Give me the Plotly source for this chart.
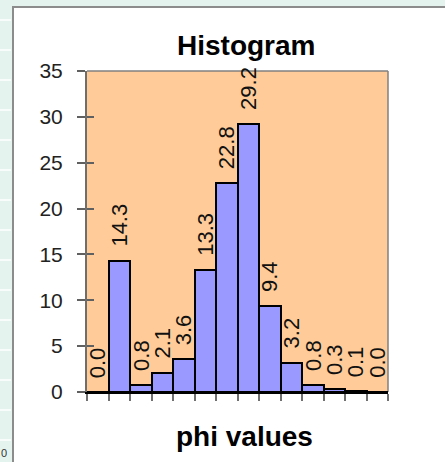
import plotly.graph_objects as go

# Histogram of phi values: percentage per bin
bins = list(range(14))
percent = [0.0, 14.3, 0.8, 2.1, 3.6, 13.3, 22.8, 29.2, 9.4, 3.2, 0.8, 0.3, 0.1, 0.0]
y_ticks = [0, 5, 10, 15, 20, 25, 30, 35]

FONT = "Liberation Sans, Arial, sans-serif"
W, H = 445, 462
L, R, T, B = 87, 57, 71, 70
PW, PH = W - L - R, H - T - B


def px(xp):
    return (xp - L) / PW


def py(yp):
    return (H - B - yp) / PH


fig = go.Figure()
fig.add_trace(go.Bar(
    x=bins, y=percent,
    marker=dict(color="#9999FF", line=dict(color="#000000", width=2)),
    width=1.0, hoverinfo="skip", showlegend=False,
))
# helper trace so the overlay axis (inward tick halves) is drawn
fig.add_trace(go.Scatter(x=[None], y=[None], yaxis="y2", showlegend=False, hoverinfo="skip"))

# value labels above each bar
for xi, v in zip(bins, percent):
    fig.add_annotation(
        x=xi, y=v, xref="x", yref="y", text=f"{v:.1f}", showarrow=False,
        textangle=-90, yanchor="bottom", xanchor="center", yshift=12,
        font=dict(family=FONT, size=22, color="#111111"),
    )

shapes = [
    # chart frame
    dict(type="rect", xref="paper", yref="paper", x0=px(13), x1=px(460), y0=py(7), y1=py(475),
         fillcolor="#FFFFFF", line=dict(color="#8C8C8C", width=2), layer="below"),
    # plot area fill
    dict(type="rect", xref="paper", yref="paper", x0=0, x1=1, y0=0, y1=1,
         fillcolor="#FFCC99", line=dict(width=0), layer="below"),
    # top and right plot border
    dict(type="line", xref="paper", yref="paper", x0=0, x1=1, y0=1, y1=1,
         line=dict(color="#808080", width=1.5), layer="below"),
    dict(type="line", xref="paper", yref="paper", x0=1, x1=1, y0=0, y1=1,
         line=dict(color="#808080", width=1.5), layer="below"),
]
# sheet row lines in the strip at the left
for yr in range(20, 462, 30):
    shapes.append(dict(type="line", xref="paper", yref="paper", x0=px(0), x1=px(11),
                       y0=py(yr), y1=py(yr), line=dict(color="#FFFFFF", width=1.5), layer="below"))

fig.update_layout(
    width=W, height=H,
    margin=dict(l=L, r=R, t=T, b=B),
    paper_bgcolor="#E4F3EE",
    plot_bgcolor="#FFCC99",
    bargap=0,
    shapes=shapes,
    font=dict(family=FONT, color="#000000"),
    xaxis=dict(
        range=[-0.5, 13.5], tickmode="array",
        tickvals=[b - 0.5 for b in bins] + [13.5], ticktext=[""] * 15,
        ticks="outside", ticklen=7, tickwidth=1.5, tickcolor="#707070",
        showline=True, linecolor="#000000", linewidth=2, showgrid=False, zeroline=False,
        fixedrange=True,
    ),
    yaxis=dict(
        range=[0, 35], tickmode="array", tickvals=y_ticks,
        ticks="outside", ticklen=8, tickwidth=1.5, tickcolor="#606060",
        ticklabelstandoff=10,
        tickfont=dict(family=FONT, size=21, color="#222222"),
        showline=True, linecolor="#6E6E6E", linewidth=2, showgrid=False, zeroline=False,
    ),
    yaxis2=dict(
        range=[0, 35], overlaying="y", side="left", tickmode="array", tickvals=y_ticks,
        ticks="inside", ticklen=7, tickwidth=1.5, tickcolor="#606060",
        showticklabels=False, showline=False, showgrid=False, zeroline=False,
    ),
)

fig.add_annotation(text="<b>Histogram</b>", xref="paper", yref="paper", x=px(246), y=py(45),
                   showarrow=False, xanchor="center", yanchor="middle",
                   font=dict(family=FONT, size=28, color="#000000"))
fig.add_annotation(text="<b>phi values</b>", xref="paper", yref="paper", x=px(244), y=py(436),
                   showarrow=False, xanchor="center", yanchor="middle",
                   font=dict(family=FONT, size=28, color="#000000"))
fig.add_annotation(text="0", xref="paper", yref="paper", x=px(0), y=py(453),
                   showarrow=False, xanchor="left", yanchor="middle", borderpad=0,
                   font=dict(family=FONT, size=11, color="#333333"))

fig.write_html("out.html")
